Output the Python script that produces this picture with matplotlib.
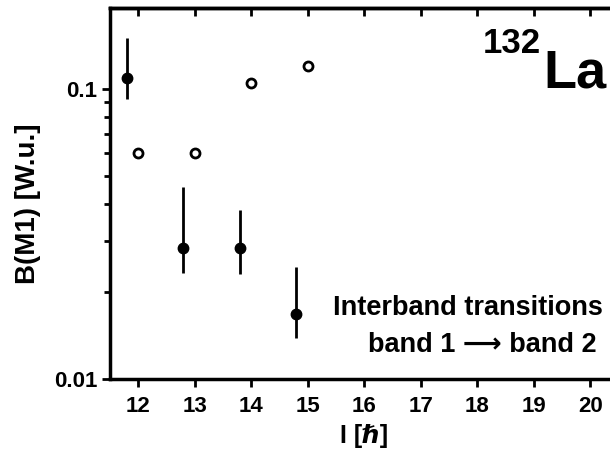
import matplotlib
matplotlib.use("Agg")
import matplotlib.pyplot as plt
from matplotlib.ticker import NullFormatter, FixedLocator, FixedFormatter

# Interband transitions band 1 -> band 2 (filled, with error bars)
spin_filled = [11.8, 12.8, 13.8, 14.8]
bm1_filled = [0.109, 0.0283, 0.0283, 0.0168]
err_low = [0.0925, 0.0232, 0.0231, 0.0138]
err_high = [0.150, 0.0459, 0.0383, 0.0243]

# Open circles
spin_open = [12, 13, 14, 15]
bm1_open = [0.060, 0.060, 0.105, 0.120]

xticks = [12, 13, 14, 15, 16, 17, 18, 19, 20]
yticks = [0.01, 0.1]
ytick_labels = ["0.01", "0.1"]
yminor = [0.02, 0.03, 0.04, 0.05, 0.06, 0.07, 0.08, 0.09]

plt.rcParams['font.family'] = ['Liberation Sans', 'DejaVu Sans']
plt.rcParams['font.weight'] = 'bold'

fig = plt.figure(figsize=(6.1, 4.55), dpi=100)
ax = fig.add_axes([110/610, 76/455, 508.5/610, 371/455])
ax.set_yscale('log')

yerr = [[b - l for b, l in zip(bm1_filled, err_low)],
        [h - b for b, h in zip(bm1_filled, err_high)]]
ax.errorbar(spin_filled, bm1_filled, yerr=yerr, fmt='o', color='black',
            ms=7.5, elinewidth=2.0, capsize=0, zorder=3)
ax.plot(spin_open, bm1_open, 'o', mfc='white', mec='black', mew=2.0, ms=6.5, zorder=3)

ax.set_xlim(11.5, 20.5)
ax.set_ylim(0.01, 0.19)

ax.xaxis.set_major_locator(FixedLocator(xticks))
ax.yaxis.set_major_locator(FixedLocator(yticks))
ax.yaxis.set_major_formatter(FixedFormatter(ytick_labels))
ax.yaxis.set_minor_locator(FixedLocator(yminor))
ax.yaxis.set_minor_formatter(NullFormatter())

for s in ax.spines.values():
    s.set_linewidth(2.5)
ax.spines['right'].set_visible(False)

ax.tick_params(axis='x', which='major', direction='out', length=6, width=2,
               top=False, labelsize=16, pad=6)
ax.tick_params(axis='x', which='minor', bottom=False, top=False)
ax.tick_params(axis='y', which='major', direction='out', length=6, width=2, labelsize=16, pad=3)
ax.tick_params(axis='y', which='minor', direction='out', length=4.5, width=2, left=True)
ax2 = ax.secondary_xaxis('top')
ax2.set_xticks(xticks)
ax2.tick_params(direction='in', length=6, width=2, labelsize=0)
ax2.set_xticklabels([])
ax2.spines['top'].set_linewidth(2.5)

for lab in ax.get_xticklabels() + ax.get_yticklabels():
    lab.set_fontweight('bold')

ax.set_xlabel("I [\u210f]", fontsize=18, fontweight='bold', labelpad=5)
ax.set_ylabel("B(M1) [W.u.]", fontsize=20, fontweight='bold')
ax.yaxis.set_label_coords(-0.135, 0.472)

fig.text(483/610, 1 - 53/455, "132", fontsize=25, fontweight='bold',
         ha='left', va='baseline')
fig.text(543/610, 1 - 87/455, "La", fontsize=39, fontweight='bold',
         ha='left', va='baseline')

fig.text(603/610, 1 - 315/455, "Interband transitions", fontsize=19.5,
         fontweight='bold', ha='right', va='baseline')
fig.text(597/610, 1 - 352/455, "band 1 \u27f6 band 2", fontsize=19.5,
         fontweight='bold', ha='right', va='baseline')

fig.savefig("out.png", dpi=100)
